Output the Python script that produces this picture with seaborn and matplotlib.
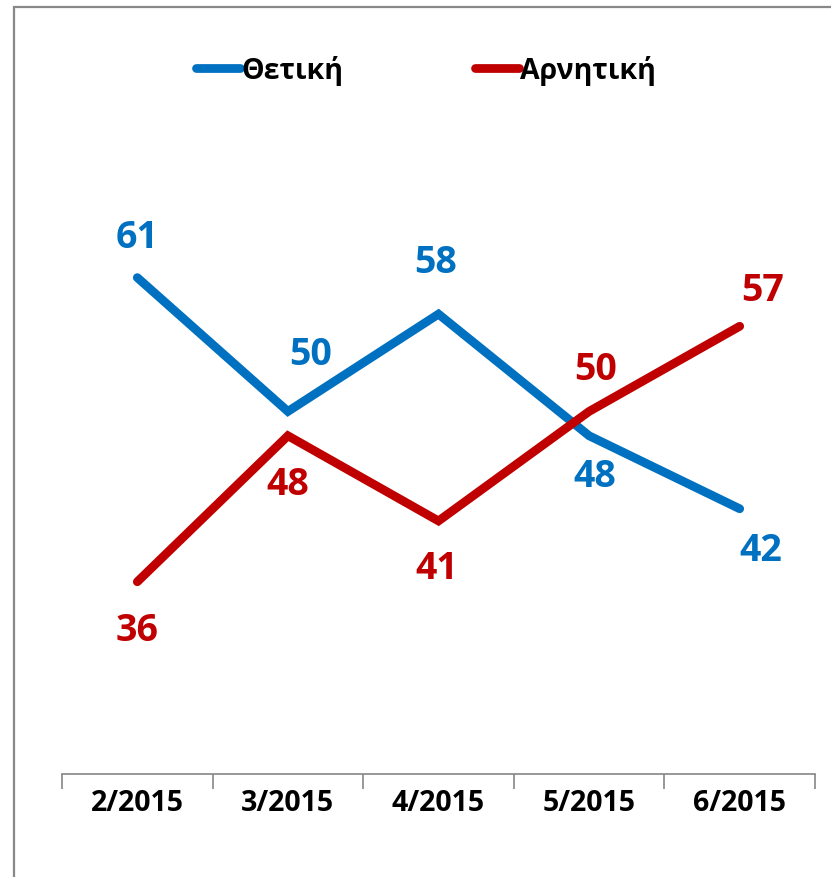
import matplotlib
matplotlib.use("Agg")
import matplotlib.pyplot as plt
import seaborn as sns
import pandas as pd
from matplotlib.patches import Rectangle

months = ["2/2015", "3/2015", "4/2015", "5/2015", "6/2015"]
positive = [61, 50, 58, 48, 42]
negative = [36, 48, 41, 50, 57]
series_names = ["Θετική", "Αρνητική"]

# label offsets in pixels (style, not data)
pos_off = [(0, 41), (23, 57), (-3, 52), (6, -40), (21, -41)]
neg_off = [(0, -48), (0, -48), (-2, -47), (7, 42), (23, 36)]

sns.set_theme(style="white")
plt.rcParams['font.family'] = ['Open Sans', 'DejaVu Sans']
plt.rcParams['text.color'] = 'black'
plt.rcParams['xtick.color'] = 'black'

df = pd.DataFrame({
    "month": months * 2,
    "value": positive + negative,
    "series": [series_names[0]] * 5 + [series_names[1]] * 5,
})
df["x"] = list(range(5)) * 2

colors = {series_names[0]: "#0070C0", series_names[1]: "#C00000"}

fig = plt.figure(figsize=(8.31, 8.78), dpi=100)
ax = fig.add_axes([62/831, 1-775/878, (815-62)/831, (775-45)/878])

sns.lineplot(data=df, x="x", y="value", hue="series", palette=colors, ax=ax,
             linewidth=6.3, legend=True, sort=False)
for line in ax.get_lines():
    line.set_solid_capstyle("round")
    line.set_solid_joinstyle("miter")

ax.set_xlim(-0.5, 4.5)
ax.set_ylim(20.2, 80.2)
ax.set_xlabel("")
ax.set_ylabel("")
ax.set_yticks([])
ax.set_xticks([i + 0.5 for i in range(-1, 5)], minor=False)
ax.set_xticklabels([])
ax.set_xticks(range(5), minor=True)
ax.set_xticklabels(months, minor=True, fontsize=20.5, fontweight="bold", color="black")
ax.tick_params(axis="x", which="major", length=11, width=1.2, color="#868686", direction="out", bottom=True)
ax.tick_params(axis="x", which="minor", length=0, pad=10)
for s in ["top", "right", "left"]:
    ax.spines[s].set_visible(False)
ax.spines["bottom"].set_color("#868686")
ax.spines["bottom"].set_linewidth(1.2)

px = 72 / 100
for i, (v, (dx, dy)) in enumerate(zip(positive, pos_off)):
    ax.annotate(str(v), (i, v), xytext=(dx * px, dy * px), textcoords="offset points",
                ha="center", va="center", fontsize=27, fontweight="bold", color="#0070C0")
for i, (v, (dx, dy)) in enumerate(zip(negative, neg_off)):
    ax.annotate(str(v), (i, v), xytext=(dx * px, dy * px), textcoords="offset points",
                ha="center", va="center", fontsize=27, fontweight="bold", color="#C00000")

handles, labels = ax.get_legend_handles_labels()
ax.get_legend().remove()
for h in handles:
    h.set_solid_capstyle("round")
leg = fig.legend(handles, labels, loc="center", bbox_to_anchor=(426/831, 1-71/878),
                 ncol=2, frameon=False, handlelength=1.55, handletextpad=0.05,
                 columnspacing=4.6, prop={"weight": "bold", "size": 20.5})
for t in leg.get_texts():
    t.set_color("black")

fig.patches.append(Rectangle((14/831, -0.1), 2, 1.1 - 8/878, transform=fig.transFigure,
                             fill=False, edgecolor="#888888", linewidth=1.6, zorder=10))

fig.savefig("out.png", dpi=100)
